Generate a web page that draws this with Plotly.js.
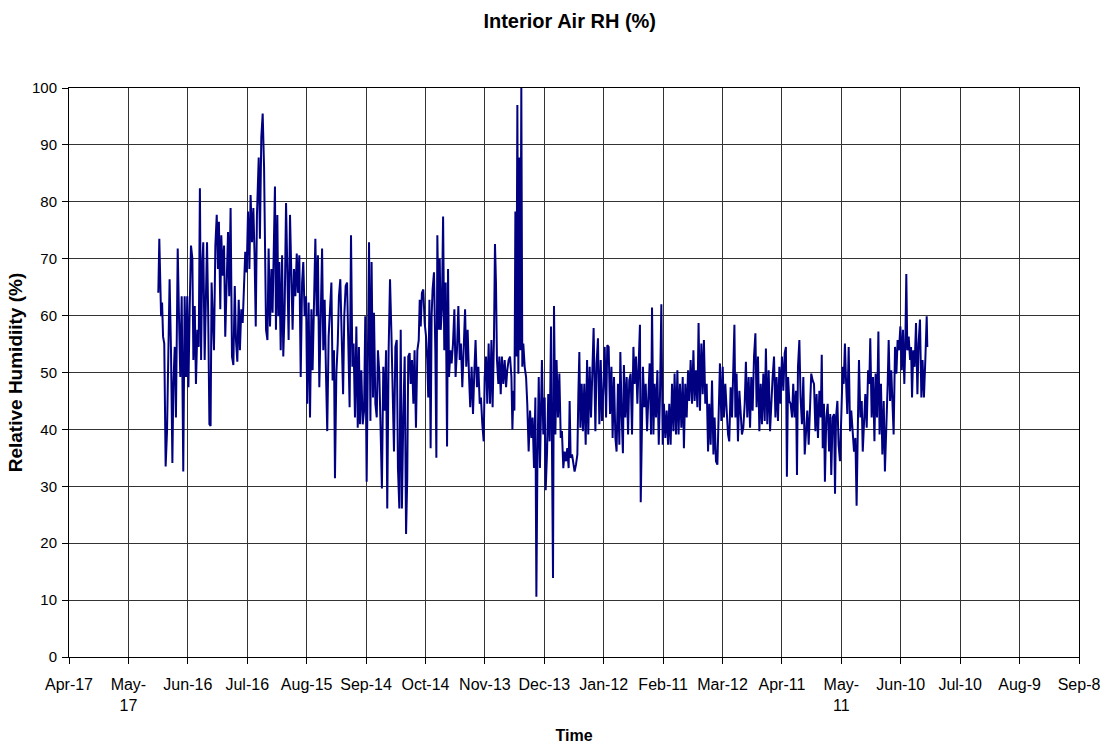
<!DOCTYPE html>
<html>
<head>
<meta charset="utf-8">
<script src="https://cdn.plot.ly/plotly-3.0.1.min.js"></script>
<style>html,body{margin:0;padding:0;background:#fff;}#chart{width:1102px;height:744px;}</style>
</head>
<body>
<div id="chart"></div>
<script>
// Start of the time axis (first tick, Apr-17)
const startDate = "2007-04-17";

// Elapsed days since startDate for each reading
const dayOffsets = [
45.1,45.6,46.1,46.5,47.0,47.5,48.1,48.8,49.5,50.2,50.8,51.5,52.2,52.7,53.4,54.0,54.9,55.5,56.2,56.9,
57.7,58.4,59.1,59.7,60.3,60.9,61.6,62.3,62.8,63.5,64.1,64.8,65.5,66.1,66.7,67.2,67.8,68.5,69.2,69.7,
70.3,70.9,71.5,72.0,72.7,73.2,73.9,74.6,75.2,75.7,76.4,76.9,77.6,78.3,78.9,79.6,80.3,80.9,81.6,82.3,
83.0,83.7,84.3,85.0,85.7,86.3,87.0,87.7,88.4,89.0,89.7,90.4,91.1,91.7,92.4,93.1,93.7,94.3,94.9,95.8,
96.4,97.1,97.8,98.5,
99.5,100.2,100.8,101.5,102.2,102.8,103.5,104.0,104.5,105.2,105.7,106.2,106.9,107.6,108.2,108.9,109.6,110.3,110.9,111.6,
112.3,112.9,113.6,114.3,115.0,115.6,116.3,117.0,117.7,118.3,119.0,119.7,120.3,121.0,121.7,122.4,123.0,123.7,124.4,125.1,
125.7,126.4,127.1,127.8,128.4,129.1,129.8,130.4,131.1,131.8,132.5,133.1,133.8,134.3,135.0,135.7,136.3,137.0,137.7,138.4,
139.0,139.7,140.4,141.0,141.7,142.4,143.1,143.7,144.4,145.1,145.8,146.4,146.9,147.6,148.3,149.0,149.6,150.3,151.0,151.5,
152.2,152.8,153.5,
154.0,154.7,155.4,156.0,156.7,157.4,158.0,158.7,159.4,160.1,160.7,161.4,162.1,162.8,163.4,164.1,164.8,165.5,166.1,166.8,
167.5,168.1,168.8,169.5,170.2,170.8,171.3,172.0,172.5,173.2,173.9,174.5,175.2,175.9,176.6,177.1,177.6,178.2,178.9,179.6,
180.3,180.9,181.4,182.0,182.6,183.1,183.6,184.3,185.0,185.5,186.0,186.7,187.2,187.7,188.3,188.9,189.5,190.2,190.9,191.4,
191.9,192.6,193.2,193.9,194.6,195.2,195.9,196.6,197.3,197.9,198.6,199.3,200.0,200.6,201.3,202.0,202.6,203.3,204.0,204.7,
205.3,206.0,206.7,207.4,208.0,208.7,209.4,
209.9,210.6,211.2,211.9,212.6,213.3,213.9,214.6,215.1,215.6,216.1,216.8,217.3,218.0,218.6,219.3,220.0,220.7,221.3,222.0,
222.7,223.4,223.9,224.4,224.9,225.4,225.9,226.4,226.9,227.4,227.9,228.4,228.9,229.4,230.1,230.8,231.4,232.1,232.8,233.5,
234.1,234.8,235.5,236.0,236.5,237.2,237.8,238.3,238.8,239.5,240.2,240.7,241.4,242.0,242.7,243.4,243.9,244.4,244.9,245.6,
246.2,246.9,247.6,248.3,248.9,249.6,250.3,251.0,251.6,252.3,252.8,253.3,254.0,254.7,255.3,256.0,256.7,257.2,257.7,258.2,
258.9,259.5,260.2,260.9,261.6,262.2,262.9,263.6,264.2,264.9,
265.8,266.4,267.1,267.8,268.5,269.1,269.8,270.5,271.2,271.8,272.5,273.2,273.9,274.5,275.2,275.9,276.5,277.2,277.9,278.4,
279.1,279.7,280.2,280.9,281.6,282.3,282.9,283.6,284.3,285.0,285.6,286.3,287.0,287.6,288.3,288.7,289.2,289.8,290.5,291.2,
291.9,292.5,293.2,293.9,294.4,295.1,295.7,296.4,297.1,297.8,298.4,299.1,299.8,300.4,301.1,301.8,302.5,303.1,303.8,304.5,
305.2,305.8,306.5,307.2,307.8,308.5,309.2,309.9,310.5,311.2,311.9,312.6,313.2,313.9,314.6,315.3,315.9,316.6,317.3,317.9,
318.6,319.3,320.0,
320.6,321.3,322.0,322.7,323.3,324.0,324.7,325.4,326.0,326.7,327.4,328.0,328.7,329.4,330.1,330.7,331.4,332.1,332.8,333.4,
334.1,334.8,335.4,336.0,336.5,337.1,337.8,338.5,339.2,339.8,340.5,341.2,341.8,342.5,343.2,343.9,344.5,345.2,345.9,346.6,
347.2,347.9,348.6,349.3,349.9,350.6,351.3,351.9,352.6,353.3,354.0,354.6,355.3,356.0,356.7,357.3,358.0,358.7,359.3,360.0,
360.7,361.4,362.0,362.5,363.1,363.7,364.4,365.1,365.7,366.4,367.1,367.6,368.1,368.8,369.4,370.1,370.8,371.5,372.1,372.8,
373.5,374.2,374.8,375.5,
376.2,376.9,377.5,378.2,378.9,379.6,380.1,380.6,381.2,381.7,382.4,383.1,383.8,384.4,384.9,385.6,386.3,386.8,387.3,388.0,
388.6,389.3,390.0,390.7,391.2,391.8,392.3,393.0,393.7,394.4,395.0,395.7,396.4,397.1,397.7,398.4,398.9,399.6,400.3,400.8,
401.4,402.1,402.8,403.5,404.1,404.6,405.3,406.0,406.7,407.3,408.0,408.7,409.3,410.0,410.7,411.4,412.0,412.7,413.4,413.9,
414.6,415.2,415.9,416.4,417.1,417.8,418.4,419.1,419.8,420.5,421.1,421.8,422.3,422.8,423.3,424.0,424.7,425.2,425.7,426.3,
427.0,427.7,428.4,429.0,429.7,430.4,431.0,431.7,432.4,433.1,433.4
];

// Relative humidity (%) readings
const rhValues = [
64.0,73.5,65.8,59.9,62.3,56.3,55.1,33.5,39.7,58.7,66.4,53.9,34.1,48.0,54.5,42.1,71.8,60.5,49.2,63.4,
32.6,63.4,49.2,63.4,47.4,60.5,72.3,70.0,52.2,61.7,48.0,57.5,54.5,82.4,52.2,68.2,72.9,52.2,65.8,72.9,
59.9,40.9,40.6,65.8,58.7,53.9,72.3,77.7,68.2,76.5,61.1,74.1,67.0,72.3,56.3,64.6,74.7,63.4,78.9,52.8,
51.3,65.2,55.7,51.9,62.8,53.9,61.1,58.7,64.6,71.2,67.6,78.3,68.2,81.2,72.9,78.9,70.6,58.1,77.7,87.8,
73.5,91.3,95.5,86.0,
57.5,55.7,71.8,58.1,68.2,60.5,73.5,82.7,57.5,77.7,59.9,69.4,53.9,70.6,52.8,61.1,79.8,62.8,55.7,77.7,
64.6,57.5,68.2,63.4,70.9,64.0,70.6,49.2,65.8,69.4,59.9,63.4,44.5,62.3,42.1,61.1,50.4,59.9,73.5,59.9,
70.6,47.4,58.7,71.8,53.9,62.8,49.2,39.7,56.3,60.5,65.8,48.6,53.9,31.4,49.8,55.1,63.4,66.4,52.8,46.2,
59.9,65.2,65.8,56.3,43.9,74.1,51.0,55.1,42.1,58.1,40.3,54.5,40.9,50.4,40.9,43.3,59.9,30.8,63.4,72.9,
41.5,69.4,45.6,
60.5,44.5,42.1,53.9,49.8,39.1,29.6,51.0,43.3,53.9,26.1,53.9,66.4,56.9,44.5,36.1,54.5,55.7,33.2,26.1,
57.5,26.1,42.1,52.8,21.6,31.4,52.8,53.4,48.0,52.2,44.5,53.9,40.3,53.9,55.7,62.8,58.1,64.0,64.6,58.7,
56.3,52.2,45.6,62.8,36.7,59.9,64.6,67.6,53.4,35.0,74.1,57.5,70.0,57.5,61.1,77.4,53.9,65.8,37.0,68.2,
49.2,53.9,51.6,55.1,61.1,49.2,53.9,61.7,52.2,55.1,47.4,55.1,61.1,51.0,57.5,49.2,43.9,51.0,42.7,50.4,
55.7,47.4,51.0,44.5,45.6,40.9,37.9,
49.2,52.8,44.5,55.1,44.5,55.7,43.9,56.3,72.6,65.8,52.2,48.0,52.8,46.2,52.8,48.0,52.2,47.4,50.4,52.2,
52.8,49.2,40.0,46.8,43.3,78.3,52.8,97.0,49.8,87.8,53.9,100.0,51.0,55.1,51.0,49.2,44.5,36.1,43.3,38.5,
42.1,33.2,45.6,10.6,33.2,49.2,33.2,45.0,52.2,39.1,45.6,29.3,36.1,46.2,37.9,58.1,40.3,13.9,61.7,39.1,
52.2,42.1,49.8,38.5,39.7,33.2,36.1,34.4,36.7,33.2,45.0,35.0,35.6,33.8,32.6,33.8,35.6,46.2,53.6,40.3,
48.0,39.7,48.0,37.3,52.2,39.1,51.0,42.1,49.2,57.8,
39.7,51.6,56.0,40.9,52.2,41.5,46.8,54.5,42.1,54.8,54.5,42.7,51.0,38.5,49.2,38.5,36.1,48.0,37.3,53.6,
42.1,35.8,51.3,42.1,49.2,39.1,48.6,49.8,39.1,54.5,48.0,52.8,44.5,51.0,58.4,27.2,36.7,51.0,43.9,48.0,
39.7,45.0,51.6,39.1,61.4,39.1,48.0,42.1,50.4,37.3,45.6,62.0,37.3,44.5,38.5,43.3,37.3,44.5,37.3,48.0,
39.7,49.8,39.1,50.4,39.1,48.0,40.3,49.2,36.7,48.0,42.1,50.4,45.0,52.2,44.5,53.9,45.0,50.4,43.9,58.7,
43.3,55.1,46.2,
55.7,44.5,48.0,36.1,44.5,37.3,48.6,35.6,42.1,34.4,33.8,43.3,51.6,41.5,51.0,42.1,48.0,43.3,39.1,37.9,
47.4,42.1,51.0,58.4,42.1,49.8,37.9,46.8,42.7,39.1,40.3,44.5,51.9,42.1,49.2,40.3,49.2,43.3,52.8,56.9,
43.9,52.8,39.7,48.0,40.9,49.8,41.5,54.2,40.9,50.4,39.7,45.0,49.2,52.8,42.1,49.2,41.5,51.0,44.5,52.8,
46.8,53.4,54.5,31.7,49.2,45.0,44.5,42.1,48.0,42.1,46.8,32.0,51.0,55.7,45.6,40.9,49.2,35.6,39.7,43.3,
37.3,45.0,49.8,48.6,
48.0,39.7,46.2,38.5,46.8,42.1,53.1,36.7,44.5,30.8,42.1,44.5,36.1,42.7,32.0,42.1,42.7,28.7,42.1,45.0,
37.3,34.4,42.1,51.0,48.0,55.1,49.2,42.7,54.5,39.7,43.3,39.7,36.1,38.5,26.6,42.1,52.2,42.1,45.0,36.1,
42.1,46.2,40.3,50.4,48.0,56.0,42.1,49.2,37.9,49.8,42.1,57.2,39.1,48.0,35.6,45.0,32.6,39.7,48.0,55.7,
45.0,50.4,42.1,39.1,54.5,49.8,55.7,53.9,58.1,50.4,57.5,48.0,55.1,67.3,53.9,56.3,52.2,54.5,45.6,53.9,
51.0,58.7,46.2,55.1,59.3,45.6,52.2,45.6,52.2,59.9,54.5
];

// X-axis tick dates and labels (30-day steps)
const tickDates = ["2007-04-17","2007-05-17","2007-06-16","2007-07-16","2007-08-15","2007-09-14",
  "2007-10-14","2007-11-13","2007-12-13","2008-01-12","2008-02-11","2008-03-12","2008-04-11",
  "2008-05-11","2008-06-10","2008-07-10","2008-08-09","2008-09-08"];
const tickLabels = ["Apr-17","May-<br>17","Jun-16","Jul-16","Aug-15","Sep-14","Oct-14","Nov-13",
  "Dec-13","Jan-12","Feb-11","Mar-12","Apr-11","May-<br>11","Jun-10","Jul-10","Aug-9","Sep-8"];

const t0 = Date.parse(startDate + "T00:00:00Z");
const xDates = dayOffsets.map(d => new Date(t0 + d * 86400000).toISOString().slice(0, 19).replace("T", " "));

const FONT = "Arial, 'Liberation Sans', sans-serif";

Plotly.newPlot("chart", [{
  type: "scatter",
  mode: "lines",
  x: xDates,
  y: rhValues,
  line: {color: "#000080", width: 2},
  hoverinfo: "x+y"
}], {
  width: 1102,
  height: 744,
  margin: {l: 69, r: 23, t: 88, b: 87},
  paper_bgcolor: "#ffffff",
  plot_bgcolor: "#ffffff",
  showlegend: false,
  font: {family: FONT, color: "#000", size: 15},
  title: {
    text: "<b>Interior Air RH (%)</b>",
    font: {family: FONT, size: 20, color: "#000"},
    xref: "container", x: 0.517, xanchor: "center",
    yref: "container", y: 0.972, yanchor: "middle"
  },
  xaxis: {
    type: "date",
    range: [tickDates[0], tickDates[tickDates.length - 1]],
    tickmode: "array",
    tickvals: tickDates,
    ticktext: tickLabels,
    tickangle: 0,
    ticks: "outside", ticklen: 6, tickcolor: "#000",
    ticklabelstandoff: 7,
    showline: true, linecolor: "#000", linewidth: 1, mirror: true,
    showgrid: true, gridcolor: "#333", gridwidth: 1,
    zeroline: false,
    tickfont: {family: FONT, size: 16, color: "#000"},
    title: {text: "<b>Time</b>", font: {family: FONT, size: 16, color: "#000"}, standoff: 18}
  },
  yaxis: {
    range: [0, 100],
    tickmode: "linear", tick0: 0, dtick: 10,
    ticks: "outside", ticklen: 6, tickcolor: "#000",
    ticklabelstandoff: 2,
    showline: true, linecolor: "#000", linewidth: 1, mirror: true,
    showgrid: true, gridcolor: "#333", gridwidth: 1,
    zeroline: false,
    tickfont: {family: FONT, size: 15, color: "#000"},
    title: {text: "<b>Relative Humidiity (%)</b>", font: {family: FONT, size: 19, color: "#000"}, standoff: 4}
  }
}, {displayModeBar: false, staticPlot: true});
</script>
</body>
</html>
